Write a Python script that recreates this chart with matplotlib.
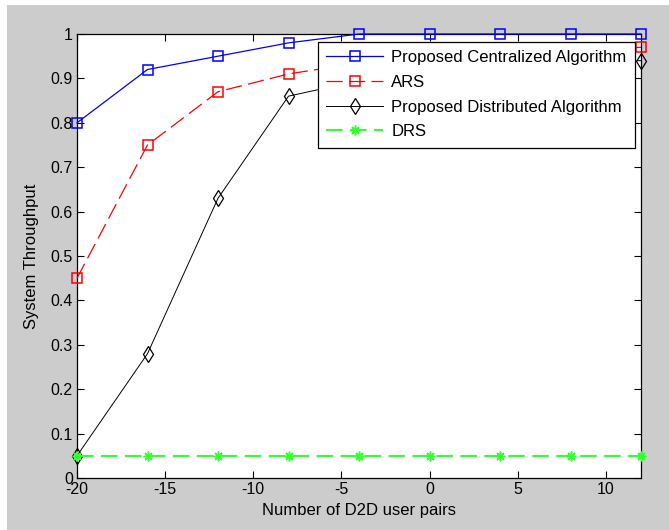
import matplotlib.pyplot as plt
from matplotlib.patches import Rectangle

# values
x_pairs = [-20, -16, -12, -8, -4, 0, 4, 8, 12]
centralized = [0.80, 0.92, 0.95, 0.98, 1.0, 1.0, 1.0, 1.0, 1.0]
ars = [0.45, 0.75, 0.87, 0.91, 0.935, 0.95, 0.96, 0.965, 0.97]
distributed = [0.05, 0.28, 0.63, 0.86, 0.895, 0.91, 0.925, 0.935, 0.94]
drs = [0.05, 0.05, 0.05, 0.05, 0.05, 0.05, 0.05, 0.05, 0.05]

plt.rcParams['font.family'] = ['Liberation Sans', 'DejaVu Sans']
plt.rcParams['axes.unicode_minus'] = False

fig = plt.figure(figsize=(6.69, 5.30), dpi=100, facecolor='#cccccc')
# thin white strips at left and top like the screenshot
fig.add_artist(Rectangle((0, 0), 7 / 669, 1, transform=fig.transFigure,
                         facecolor='white', edgecolor='none'))
fig.add_artist(Rectangle((0, 1 - 5 / 530), 1, 5 / 530, transform=fig.transFigure,
                         facecolor='white', edgecolor='none'))

ax = fig.add_axes([77 / 669, 52 / 530, 564 / 669, 444 / 530])
ax.set_facecolor('white')

ax.plot(x_pairs, centralized, color='#0000ff', linestyle='-', linewidth=0.9,
        marker='s', markersize=7.5, markerfacecolor='none', markeredgewidth=1.1,
        label='Proposed Centralized Algorithm', clip_on=False, zorder=4)
ax.plot(x_pairs, ars, color='#ff0000', linestyle=(0, (13, 5)), linewidth=0.9,
        marker='s', markersize=7.5, markerfacecolor='none', markeredgewidth=1.1,
        label='ARS', clip_on=False, zorder=4)
ax.plot(x_pairs, distributed, color='black', linestyle='-', linewidth=0.7,
        marker='d', markersize=8.5, markerfacecolor='none', markeredgewidth=0.9,
        label='Proposed Distributed Algorithm', clip_on=False, zorder=4)
ax.plot(x_pairs, drs, color='#33ff33', linestyle=(0, (8, 3.5)), linewidth=1.5,
        marker=(8, 2, 0), markersize=7, markeredgewidth=1.1,
        label='DRS', clip_on=False, zorder=4)

ax.set_xlim(-20, 12)
ax.set_ylim(0, 1)
ax.set_xticks([-20, -15, -10, -5, 0, 5, 10])
ax.set_yticks([0, 0.1, 0.2, 0.3, 0.4, 0.5, 0.6, 0.7, 0.8, 0.9, 1])
ax.set_yticklabels(['0', '0.1', '0.2', '0.3', '0.4', '0.5', '0.6', '0.7', '0.8', '0.9', '1'])
ax.tick_params(direction='in', top=True, right=True, length=5, width=0.8,
               labelsize=11.5, colors='black', pad=3)
for s in ax.spines.values():
    s.set_linewidth(0.9)

ax.set_xlabel('Number of D2D user pairs', fontsize=12, labelpad=4)
ax.set_ylabel('System Throughput', fontsize=12, labelpad=8)

leg = ax.legend(loc='upper right', bbox_to_anchor=(0.989, 0.982), fontsize=12,
                fancybox=False, framealpha=1, edgecolor='black',
                handlelength=3.4, borderpad=0.5, labelspacing=0.58,
                handletextpad=0.5, borderaxespad=0)
leg.get_frame().set_linewidth(0.9)
leg.set_zorder(5)

fig.savefig('out.png', dpi=100, facecolor=fig.get_facecolor())
